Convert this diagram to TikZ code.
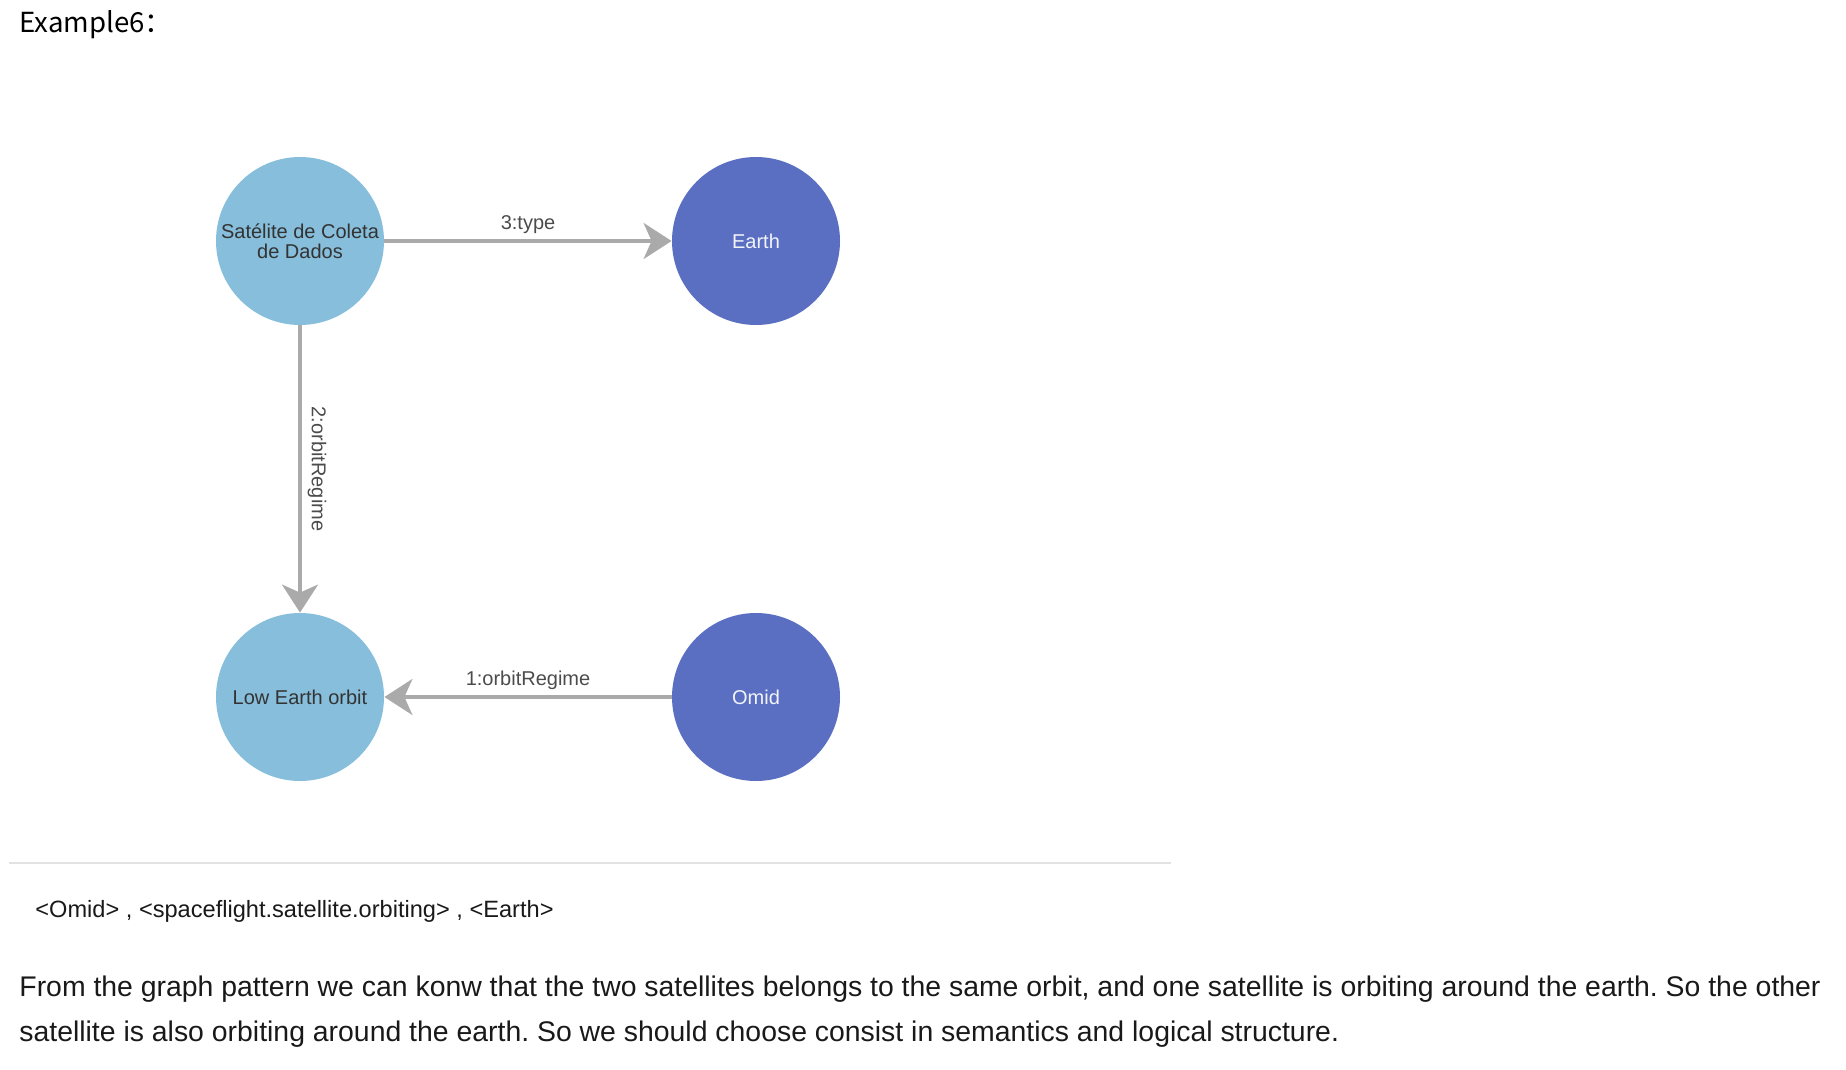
\documentclass[tikz,border=0pt]{standalone}
\usepackage{fontspec}
\setmainfont{Liberation Sans}
\newfontfamily\cjk{Noto Sans CJK SC}
\usetikzlibrary{arrows.meta}
\definecolor{lightnode}{HTML}{86BEDB}
\definecolor{darknode}{HTML}{5A6FC1}
\definecolor{edgegray}{HTML}{AAAAAA}
\definecolor{rulegray}{HTML}{E2E2E2}
\frenchspacing
\begin{document}
\begin{tikzpicture}[x=0.5pt, y=-0.5pt,
  ent/.style={circle, minimum size=84pt, inner sep=0pt, align=center,
    font=\fontsize{10}{10}\selectfont},
  lit/.style={ent, fill=lightnode, text=black!80},
  cls/.style={ent, fill=darknode, text=white!92!darknode},
  rel/.style={draw=edgegray, line width=1.7pt,
    -{Stealth[length=14pt, width=18pt, inset=4pt]}},
  rellabel/.style={font=\fontsize{10}{10}\selectfont, text=black!70, inner sep=3pt},
  body/.style={anchor=base west, inner sep=0pt, font=\fontsize{14.2}{16}\selectfont, text=black!90}]
\useasboundingbox (0,0) rectangle (1846,1070);
\node[anchor=base west, inner sep=0pt, font=\cjk\fontsize{13.8}{15}\selectfont] (title) at (19,33) {Example6：};
% graph
\node[lit] (sat) at (300,241) {Satélite de Coleta\\de Dados};
\node[cls] (earth) at (756,241) {Earth};
\node[lit] (leo) at (300,697) {Low Earth orbit};
\node[cls] (omid) at (756,697) {Omid};
\draw[rel] (sat) -- node[rellabel, midway, above] {3:type} (earth);
\draw[rel] (sat) -- node[rellabel, midway, rotate=-90, anchor=south] {2:orbitRegime} (leo);
\draw[rel] (omid) -- node[rellabel, midway, above] {1:orbitRegime} (leo);
\draw[rulegray, line width=1pt] (9,863) -- (1171,863);
% text
\node[body, font=\fontsize{11.8}{13}\selectfont] (triple) at (35,917)
  {<Omid> , <spaceflight.satellite.orbiting> , <Earth>};
\node[body] (line1) at (19,996) {From the graph pattern we can konw that the two satellites belongs to the same orbit, and one satellite is orbiting around the earth. So the other};
\node[body] (line2) at (19,1041) {satellite is also orbiting around the earth. So we should choose consist in semantics and logical structure.};
\end{tikzpicture}
\end{document}
